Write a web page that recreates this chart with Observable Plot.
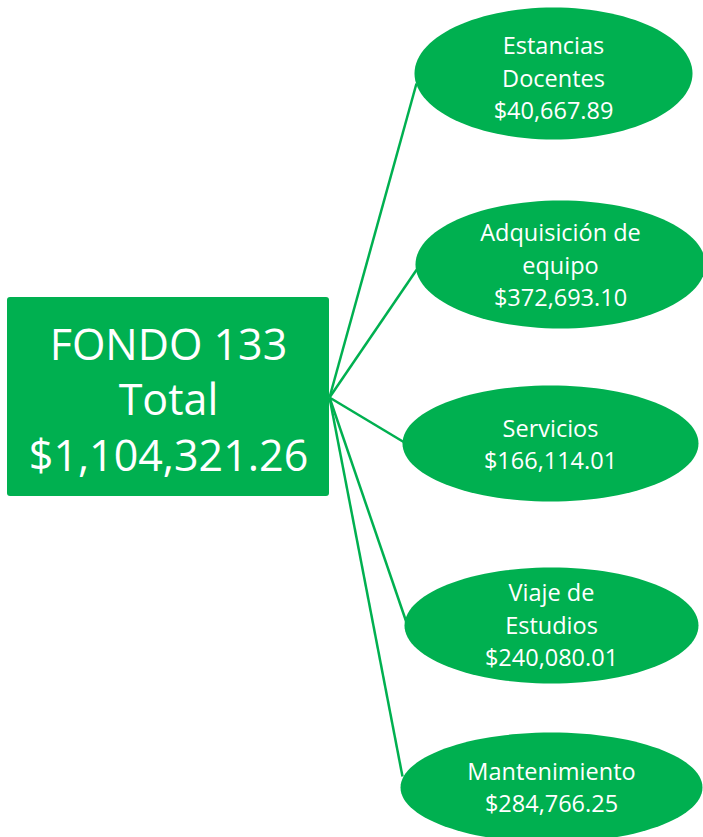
<!DOCTYPE html>
<html>
<head>
<meta charset="utf-8">
<script src="https://cdn.jsdelivr.net/npm/d3@7"></script>
<script src="https://cdn.jsdelivr.net/npm/@observablehq/plot@0.6"></script>
<style>
  html, body { margin: 0; padding: 0; background: #fff; overflow: hidden; }
  #chart svg { display: block; }
</style>
</head>
<body>
<div id="chart"></div>
<script>
// ---- data ----
const rootTitle = "FONDO 133";
const rootSubtitle = "Total";
const rootAmount = "$1,104,321.26";
const categories = ["Estancias\nDocentes", "Adquisición de\nequipo", "Servicios", "Viaje de\nEstudios", "Mantenimiento"];
const amounts = ["$40,667.89", "$372,693.10", "$166,114.01", "$240,080.01", "$284,766.25"];

// ---- layout (diagram geometry, pixels) ----
const W = 703, H = 837;
const GREEN = "#00B050";
const rootBox = {x1: 7, x2: 329, y1: 297, y2: 496, cx: 168, cy: 397};
const hub = {x: 329, y: 397};
const nodeCx = [553, 560, 550, 551, 551];
const nodeCy = [73, 264, 443, 625, 787];
const nodeRx = [139, 145, 148, 147, 151];
const nodeRy = [66, 64, 58, 58, 55];
const textCy = [76, 263, 442, 623, 785];
const linkEndY = [83, 268, 442, 622, 776];

const nodes = categories.map((c, i) => ({
  name: c, amount: amounts[i], label: c + "\n" + amounts[i],
  cx: nodeCx[i], cy: nodeCy[i], rx: nodeRx[i], ry: nodeRy[i], ty: textCy[i], ly: linkEndY[i]
}));

const ellipsePts = nodes.flatMap(n => d3.range(0, 121).map(k => {
  const t = (k / 120) * 2 * Math.PI;
  return {name: n.name, x: n.cx + n.rx * Math.cos(t), y: n.cy + n.ry * Math.sin(t)};
}));

const links = nodes.map(n => ({x1: hub.x, y1: hub.y, x2: n.cx - n.rx + 2, y2: n.ly}));

const plot = Plot.plot({
  width: W, height: H, margin: 0,
  x: {domain: [0, W], range: [0, W], axis: null},
  y: {domain: [0, H], range: [0, H], axis: null},
  style: {background: "#fff", fontFamily: "'Open Sans', sans-serif"},
  marks: [
    Plot.link(links, {x1: "x1", y1: "y1", x2: "x2", y2: "y2", stroke: GREEN, strokeWidth: 2.5}),
    Plot.rect([rootBox], {x1: "x1", x2: "x2", y1: "y1", y2: "y2", fill: GREEN, rx: 3}),
    Plot.line(ellipsePts, {x: "x", y: "y", z: "name", fill: GREEN, stroke: null, curve: "linear-closed"}),
    Plot.text([rootBox], {x: "cx", y: "cy", text: () => rootTitle + "\n" + rootSubtitle + "\n" + rootAmount,
      fill: "white", fontSize: 43, lineHeight: 1.3, textAnchor: "middle", lineAnchor: "middle"}),
    Plot.text(nodes, {x: "cx", y: "ty", text: "label", fill: "white", fontSize: 23.5,
      lineHeight: 1.38, textAnchor: "middle", lineAnchor: "middle"})
  ]
});
document.getElementById("chart").appendChild(plot);
</script>
</body>
</html>
